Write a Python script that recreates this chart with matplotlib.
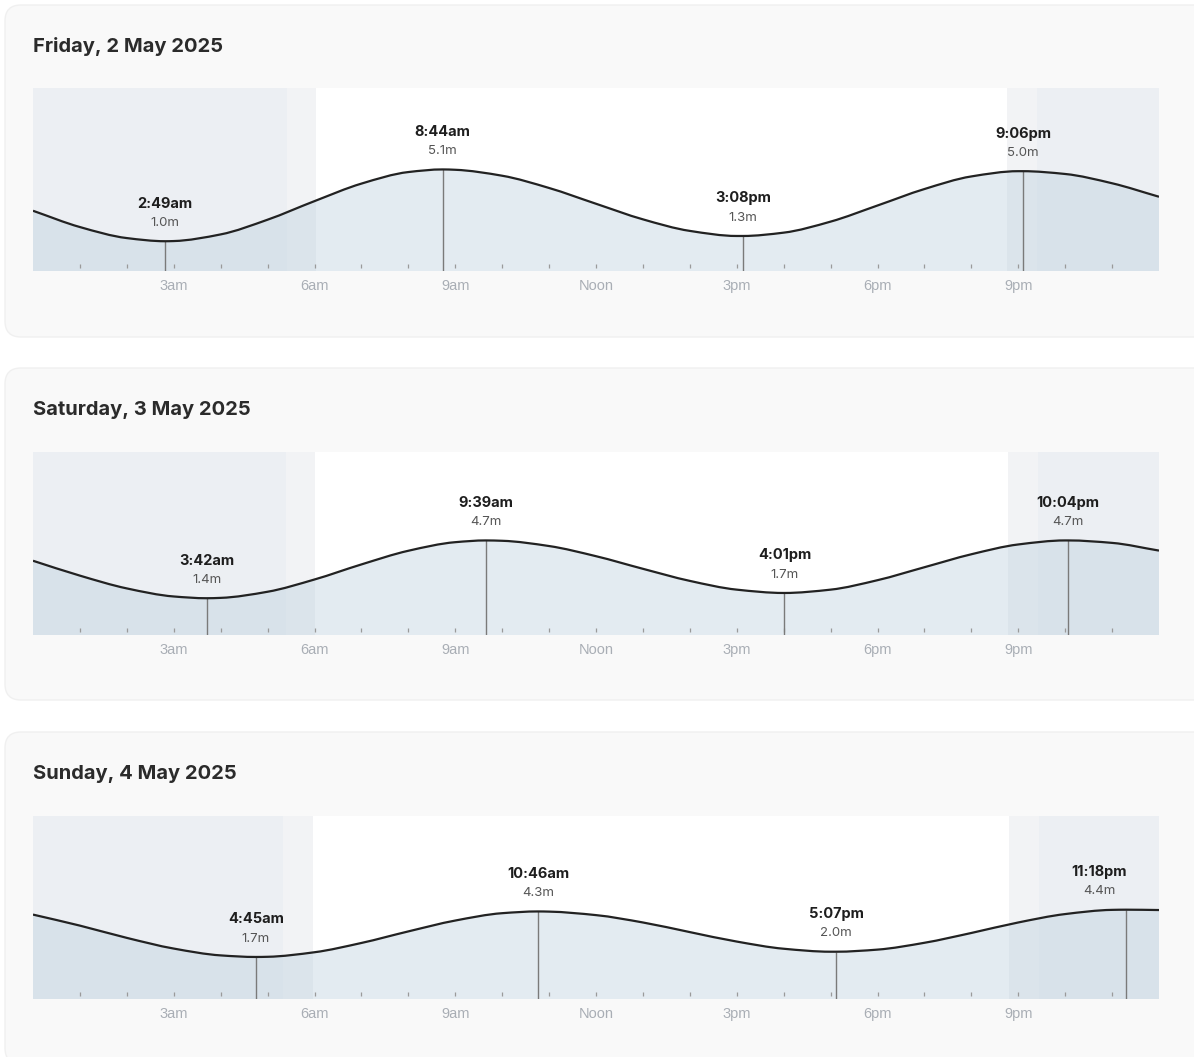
import matplotlib.pyplot as plt
import numpy as np
from matplotlib.patches import FancyBboxPatch, PathPatch
from matplotlib.path import Path
from matplotlib.transforms import blended_transform_factory

W, H = 1194, 1057

# tide data
day_titles = ["Friday, 2 May 2025", "Saturday, 3 May 2025", "Sunday, 4 May 2025"]

hours = list(range(25))
fri_height = [2.74, 1.81, 1.18, 1.01, 1.39, 2.23, 3.29, 4.29, 4.95, 5.08, 4.74, 4.04, 3.14,
              2.25, 1.59, 1.30, 1.49, 2.12, 3.04, 3.98, 4.70, 5.00, 4.84, 4.31, 3.54]
sat_height = [3.54, 2.69, 1.96, 1.50, 1.42, 1.77, 2.47, 3.33, 4.11, 4.60, 4.68, 4.38, 3.80,
              3.08, 2.39, 1.89, 1.70, 1.89, 2.43, 3.17, 3.91, 4.47, 4.70, 4.56, 4.12]
sun_height = [4.12, 3.49, 2.79, 2.18, 1.79, 1.71, 1.97, 2.50, 3.16, 3.78, 4.20, 4.29, 4.09,
              3.67, 3.12, 2.58, 2.17, 2.00, 2.12, 2.51, 3.07, 3.67, 4.15, 4.39, 4.38]

fri_times = ["2:49am", "8:44am", "3:08pm", "9:06pm"]
fri_levels = [1.0, 5.1, 1.3, 5.0]
sat_times = ["3:42am", "9:39am", "4:01pm", "10:04pm"]
sat_levels = [1.4, 4.7, 1.7, 4.7]
sun_times = ["4:45am", "10:46am", "5:07pm", "11:18pm"]
sun_levels = [1.7, 4.3, 2.0, 4.4]

# night end, dawn end, dusk start, night start (hours)
fri_light = [5.42, 6.03, 20.77, 21.39]
sat_light = [5.39, 6.01, 20.78, 21.42]
sun_light = [5.33, 5.97, 20.80, 21.44]

tick_hours = [3, 6, 9, 12, 15, 18, 21]
tick_labels = ["3am", "6am", "9am", "Noon", "3pm", "6pm", "9pm"]

days = [
    (fri_height, fri_times, fri_levels, fri_light),
    (sat_height, sat_times, sat_levels, sat_light),
    (sun_height, sun_times, sun_levels, sun_light),
]

YMIN, YMAX = -0.7, 9.75


def to_hours(s):
    hh, rest = s.split(":")
    h = int(hh) % 12 + int(rest[:2]) / 60
    if rest.endswith("pm"):
        h += 12
    return h


# monotone cubic bezier through the points (like d3 curveMonotoneX)
def smooth_verts(x, y):
    dx = np.diff(x)
    d = np.diff(y) / dx
    n = len(x)
    m = np.zeros(n)
    m[0], m[-1] = d[0], d[-1]
    for i in range(1, n - 1):
        if d[i - 1] * d[i] <= 0:
            m[i] = 0
        else:
            w1 = 2 * dx[i] + dx[i - 1]
            w2 = dx[i] + 2 * dx[i - 1]
            m[i] = (w1 + w2) / (w1 / d[i - 1] + w2 / d[i])
    verts = [(x[0], y[0])]
    codes = [Path.MOVETO]
    for i in range(n - 1):
        h = dx[i] / 3
        verts += [(x[i] + h, y[i] + m[i] * h), (x[i + 1] - h, y[i + 1] - m[i + 1] * h),
                  (x[i + 1], y[i + 1])]
        codes += [Path.CURVE4] * 3
    return verts, codes


fig = plt.figure(figsize=(W / 100, H / 100), dpi=100)
fig.patch.set_facecolor("white")

# background layer in pixel coords for the cards and titles
bg = fig.add_axes([0, 0, 1, 1], zorder=-5)
bg.set_xlim(0, W)
bg.set_ylim(H, 0)
bg.axis("off")

card_tops = [5, 368, 732]
plot_tops = [88, 452, 816]
plot_h = 183
x0, x1 = 33, 1159

for k, (height, times, levels, light) in enumerate(days):
    card = FancyBboxPatch((5, card_tops[k]), 1220, 332, boxstyle="round,pad=0,rounding_size=16",
                          fc="#f9f9f9", ec="#f0f0f0", lw=1)
    bg.add_patch(card)
    bg.text(x0, plot_tops[k] - 42, day_titles[k], fontsize=14.5, fontweight="bold",
            family="Inter", color="#2b2b2b", va="center", ha="left")

    ax = fig.add_axes([x0 / W, 1 - (plot_tops[k] + plot_h) / H, (x1 - x0) / W, plot_h / H])
    ax.set_xlim(0, 24)
    ax.set_ylim(YMIN, YMAX)
    ax.set_facecolor("white")
    for s in ax.spines.values():
        s.set_visible(False)

    # night / twilight shading
    ax.axvspan(0, light[0], color="#eceff3", lw=0, zorder=0)
    ax.axvspan(light[0], light[1], color="#f2f3f5", lw=0, zorder=0)
    ax.axvspan(light[2], light[3], color="#f2f3f5", lw=0, zorder=0)
    ax.axvspan(light[3], 24, color="#eceff3", lw=0, zorder=0)

    ext_h = [to_hours(t) for t in times]
    t_all = np.array(hours + ext_h, dtype=float)
    v_all = np.array(height + levels, dtype=float)
    order = np.argsort(t_all)
    t_all, v_all = t_all[order], v_all[order]

    verts, codes = smooth_verts(t_all, v_all)
    fill_path = Path(verts + [(24, YMIN), (0, YMIN), (0, v_all[0])],
                     codes + [Path.LINETO, Path.LINETO, Path.CLOSEPOLY])
    ax.add_patch(PathPatch(fill_path, fc="#c1d3e0", alpha=0.45, lw=0, zorder=1))
    ax.add_patch(PathPatch(Path(verts, codes), fc="none", ec="#222222", lw=1.6, zorder=4))

    # hourly ticks inside the plot
    tr = blended_transform_factory(ax.transData, ax.transAxes)
    ax.vlines(range(1, 24), 0.017, 0.038, transform=tr, color="#9a9a9a", lw=0.9, zorder=3)

    for th, lv, lab in zip(ext_h, levels, times):
        ax.vlines(th, YMIN, lv, color="#7a7a7a", lw=1.0, zorder=3)
        lx = min(th, 22.72)
        ax.annotate(lab, (lx, lv), xytext=(0, 27), textcoords="offset points",
                    ha="center", va="center", fontsize=10.5, fontweight="bold",
                    family="Inter", color="#1e1e1e", zorder=5)
        ax.annotate(f"{lv:.1f}m", (lx, lv), xytext=(0, 13.2), textcoords="offset points",
                    ha="center", va="center", fontsize=9.5, family="Inter",
                    color="#555555", zorder=5)

    ax.set_yticks([])
    ax.set_xticks(tick_hours)
    ax.set_xticklabels(tick_labels, fontsize=10.5, color="#a9aeb5", family="Liberation Sans")
    ax.tick_params(axis="x", length=0, pad=6)

fig.savefig("out.png", dpi=100, facecolor=fig.get_facecolor())
